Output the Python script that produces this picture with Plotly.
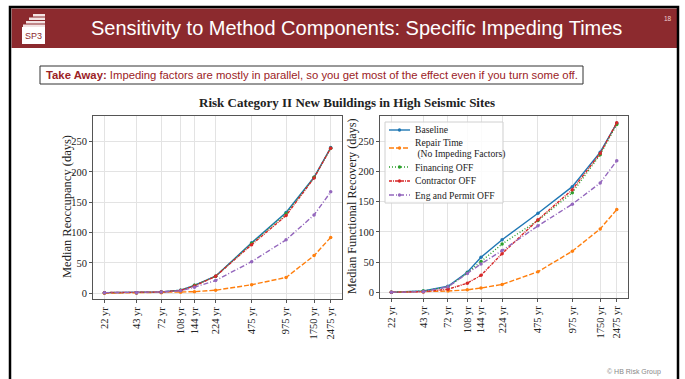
import plotly.graph_objects as go

W, H = 685, 379

return_periods = [22, 43, 72, 108, 144, 224, 475, 975, 1750, 2475]
tick_labels = [f"{v} yr" for v in return_periods]

series_names = ["Baseline", "Repair Time<br> (No Impeding Factors)", "Financing OFF",
                "Contractor OFF", "Eng and Permit OFF"]

reocc_baseline = [1, 1, 2, 5, 13, 28, 83, 133, 191, 240]
reocc_repair = [0, 0.5, 1, 1.5, 2.5, 5, 14, 26, 62, 92]
reocc_financing = [1, 1, 2, 5, 13, 28, 82, 131, 191, 239]
reocc_contractor = [1, 1, 2, 4.5, 12, 28, 80, 128, 190, 239]
reocc_engpermit = [1, 1, 2, 4, 10, 21, 52, 88, 129, 167]

fr_baseline = [0, 2, 10, 33, 58, 87, 131, 175, 232, 280]
fr_repair = [0, 0.5, 2, 4, 7, 13, 34, 68, 105, 137]
fr_financing = [0, 2, 9, 32, 51, 80, 119, 165, 228, 278]
fr_contractor = [0, 1, 5, 15, 28, 64, 120, 170, 230, 281]
fr_engpermit = [0, 1, 9, 31, 47, 69, 110, 146, 181, 218]

colors = ["#1f77b4", "#ff7f0e", "#2ca02c", "#d62728", "#9467bd"]
dashes = ["solid", "5px,2px", "1px,2px", "3px,1px,1px,1px", "5px,2px,1px,2px"]

left_data = [reocc_baseline, reocc_repair, reocc_financing, reocc_contractor, reocc_engpermit]
right_data = [fr_baseline, fr_repair, fr_financing, fr_contractor, fr_engpermit]

SERIF = "Liberation Serif, Times New Roman, serif"
SANS = "Liberation Sans, Arial, sans-serif"

fig = go.Figure()
for i in range(5):
    fig.add_trace(go.Scatter(x=return_periods, y=left_data[i], mode="lines+markers",
                             name=series_names[i],
                             line=dict(color=colors[i], width=1.4, dash=dashes[i]),
                             marker=dict(size=3.5, color=colors[i]),
                             showlegend=False, xaxis="x", yaxis="y"))
for i in range(5):
    fig.add_trace(go.Scatter(x=return_periods, y=right_data[i], mode="lines+markers",
                             name=series_names[i],
                             line=dict(color=colors[i], width=1.4, dash=dashes[i]),
                             marker=dict(size=3.5, color=colors[i]),
                             showlegend=False, xaxis="x2", yaxis="y2"))

def px_x(p):
    return p / W

def px_y(p):
    return 1 - p / H

xr = [1.239, 3.496]
yr = [-9.5, 292]

axis_common = dict(showline=True, linecolor="#555", linewidth=1, mirror=True,
                   showgrid=True, gridcolor="#e3e3e3", gridwidth=1, zeroline=False,
                   ticks="outside", ticklen=3, tickcolor="#555",
                   tickfont=dict(family=SERIF, size=10.5, color="#222"))

fig.update_layout(
    width=W, height=H, margin=dict(l=0, r=0, t=0, b=0),
    paper_bgcolor="white", plot_bgcolor="white",
    xaxis=dict(type="log", range=xr, domain=[px_x(93), px_x(342)], anchor="y",
               tickvals=return_periods, ticktext=tick_labels, tickangle=-90, **axis_common),
    yaxis=dict(range=yr, domain=[px_y(299), px_y(116)], anchor="x",
               tickvals=[0, 50, 100, 150, 200, 250], **axis_common),
    xaxis2=dict(type="log", range=xr, domain=[px_x(380), px_x(628)], anchor="y2",
                tickvals=return_periods, ticktext=tick_labels, tickangle=-90, **axis_common),
    yaxis2=dict(range=yr, domain=[px_y(298), px_y(116)], anchor="x2",
                tickvals=[0, 50, 100, 150, 200, 250], **axis_common),
    showlegend=False,
)

shapes = []
# outer black frame
shapes.append(dict(type="rect", xref="paper", yref="paper", x0=px_x(10), x1=px_x(678),
                   y0=px_y(381), y1=px_y(7), line=dict(color="black", width=2.5), fillcolor="rgba(0,0,0,0)"))
# red header band
shapes.append(dict(type="rect", xref="paper", yref="paper", x0=px_x(11.5), x1=px_x(677),
                   y0=px_y(48), y1=px_y(8.5), line=dict(width=0), fillcolor="#8c2a2e", layer="below"))
# logo white box
shapes.append(dict(type="rect", xref="paper", yref="paper", x0=px_x(22), x1=px_x(45),
                   y0=px_y(44), y1=px_y(27), line=dict(width=0), fillcolor="white"))
# logo stairs
for (a, b, yy) in [(33, 45, 14), (29, 45, 17.5), (26, 45, 21), (23, 45, 24.5)]:
    shapes.append(dict(type="rect", xref="paper", yref="paper", x0=px_x(a), x1=px_x(b),
                       y0=px_y(yy + 2.5), y1=px_y(yy), line=dict(width=0), fillcolor="#f3e3e3"))
# take away box
shapes.append(dict(type="rect", xref="paper", yref="paper", x0=px_x(40), x1=px_x(583),
                   y0=px_y(84), y1=px_y(66), line=dict(color="#333", width=1), fillcolor="white"))

# legend (drawn in the right panel, matplotlib style)
shapes.append(dict(type="rect", xref="paper", yref="paper", x0=px_x(385), x1=px_x(503),
                   y0=px_y(203), y1=px_y(122), line=dict(color="#d0d0d0", width=1),
                   fillcolor="rgba(255,255,255,0.85)"))
legend_rows = [130, 148, 167, 181, 195]
annotations = []
for i, yy in enumerate(legend_rows):
    shapes.append(dict(type="line", xref="paper", yref="paper", x0=px_x(389), x1=px_x(410),
                       y0=px_y(yy), y1=px_y(yy), line=dict(color=colors[i], width=1.4, dash=dashes[i])))
    shapes.append(dict(type="circle", xref="paper", yref="paper", x0=px_x(397.8), x1=px_x(401.2),
                       y0=px_y(yy + 1.7), y1=px_y(yy - 1.7), line=dict(width=0), fillcolor=colors[i]))
    lines = series_names[i].split("<br>")
    n = len(lines)
    for j, txt in enumerate(lines):
        ty = yy + (j - (n - 1) / 2) * 11
        annotations.append(dict(text=txt.replace(" ", "\u00a0"), x=px_x(414), y=px_y(ty),
                                xref="paper", yref="paper", borderpad=0,
                                showarrow=False, xanchor="left", yanchor="middle", align="left",
                                font=dict(family=SERIF, size=9.6, color="#222")))
fig.update_layout(shapes=shapes)

annotations += [
    dict(text="Sensitivity to Method Components: Specific Impeding Times", x=px_x(356), y=px_y(28),
         xref="paper", yref="paper", showarrow=False, xanchor="center", yanchor="middle",
         font=dict(family=SANS, size=20, color="white")),
    dict(text="SP3", x=px_x(33.5), y=px_y(36), xref="paper", yref="paper", showarrow=False,
         xanchor="center", yanchor="middle", font=dict(family=SANS, size=9, color="#8c2a2e")),
    dict(text="18", x=px_x(668), y=px_y(18), xref="paper", yref="paper", showarrow=False,
         xanchor="center", yanchor="middle", font=dict(family=SANS, size=6.5, color="#f0d0d0")),
    dict(text="<b>Take Away:</b> Impeding factors are mostly in parallel, so you get most of the effect even if you turn some off.",
         x=px_x(44), y=px_y(75), xref="paper", yref="paper", showarrow=False, xanchor="left", yanchor="middle",
         font=dict(family=SANS, size=11.3, color="#9b2226")),
    dict(text="<b>Risk Category II New Buildings in High Seismic Sites</b>", x=px_x(347), y=px_y(102),
         xref="paper", yref="paper", showarrow=False, xanchor="center", yanchor="middle",
         font=dict(family=SERIF, size=13, color="#222")),
    dict(text="Median Reoccupancy (days)", x=px_x(67), y=px_y(207), textangle=-90,
         xref="paper", yref="paper", showarrow=False, xanchor="center", yanchor="middle",
         font=dict(family=SERIF, size=12.5, color="#222")),
    dict(text="Median Functional Recovery (days)", x=px_x(352), y=px_y(206), textangle=-90,
         xref="paper", yref="paper", showarrow=False, xanchor="center", yanchor="middle",
         font=dict(family=SERIF, size=12.2, color="#222")),
    dict(text="© HB Risk Group", x=px_x(663), y=px_y(372), xref="paper", yref="paper", showarrow=False,
         xanchor="right", yanchor="middle", font=dict(family=SANS, size=7, color="#888")),
]
fig.update_layout(annotations=annotations)

fig.write_html("out.html", config={"displayModeBar": False},
               post_script="document.body.style.margin='0';document.body.style.overflow='hidden';")
